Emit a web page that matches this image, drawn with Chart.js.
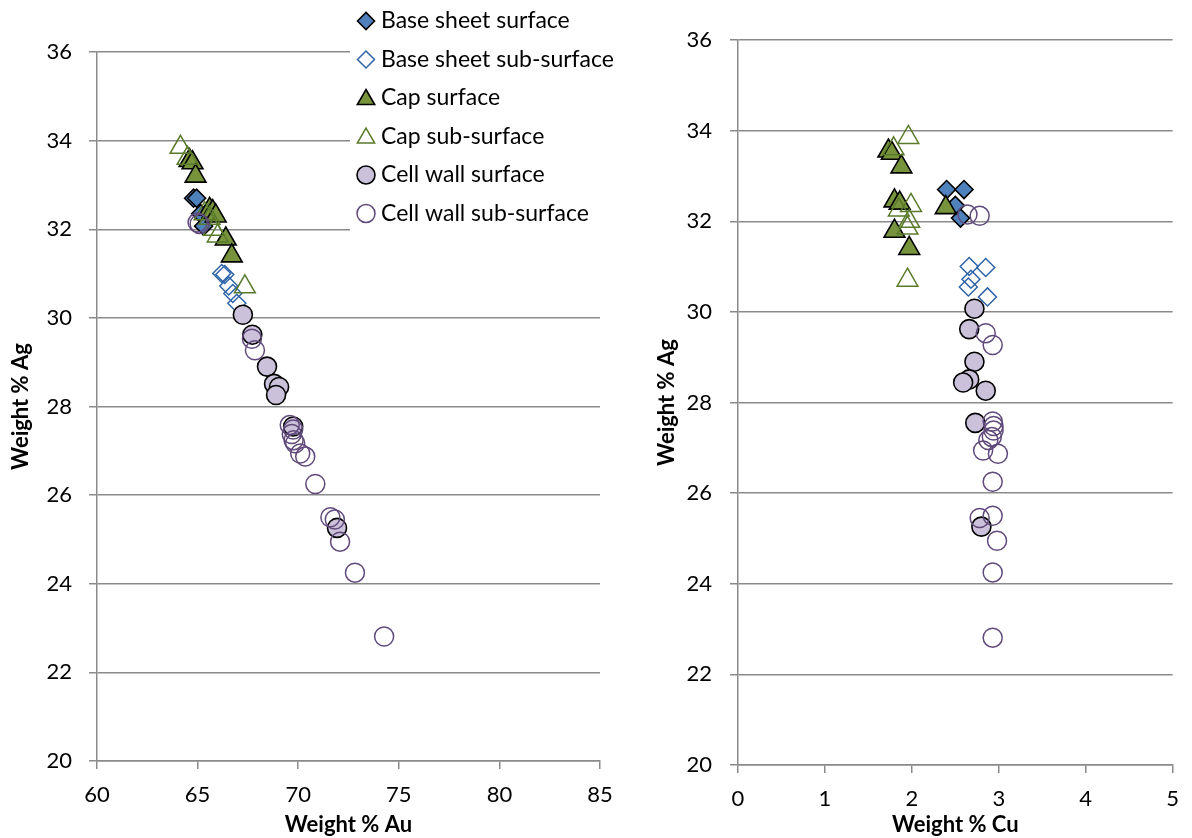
<!DOCTYPE html>
<html>
<head>
<meta charset="utf-8">
<script src="https://cdn.jsdelivr.net/npm/chart.js@4.4.1/dist/chart.umd.min.js"></script>
<style>
    body { margin: 0; background: #fff; }
    #graficaAu { position: absolute; left: 0; top: 0; }
    #graficaCu { position: absolute; left: 650px; top: 0; }
</style>
</head>
<body>
<canvas id="graficaAu" width="650" height="838"></canvas>
<canvas id="graficaCu" width="542" height="838"></canvas>
<script>
// ---------------- datos (Ag, Au, Cu en % peso) ----------------
const baseSupAg = [32.7, 32.7, 32.35, 32.07];
const baseSupAu = [64.8, 64.95, 65.15, 65.3];
const baseSupCu = [2.4, 2.6, 2.5, 2.56];

const baseSubAg = [31.0, 30.98, 30.72, 30.55, 30.33];
const baseSubAu = [66.2, 66.35, 66.55, 66.75, 66.95];
const baseSubCu = [2.66, 2.85, 2.68, 2.65, 2.87];

const capSupAg = [33.55, 33.5, 33.2, 32.45, 32.4, 32.3, 31.78, 31.4];
const capSupAu = [64.6, 64.75, 64.9, 65.6, 65.75, 65.9, 66.4, 66.7];
const capSupCu = [1.73, 1.77, 1.88, 1.8, 1.86, 2.39, 1.8, 1.97];

const capSubAg = [33.85, 33.6, 32.35, 32.25, 32.0, 31.85, 30.7];
const capSubAu = [64.15, 64.5, 65.35, 65.6, 65.8, 66.0, 67.35];
const capSubCu = [1.96, 1.79, 1.99, 1.85, 1.97, 1.95, 1.95];

const celSupAg = [30.07, 29.62, 28.9, 28.51, 28.44, 28.26, 27.55, 25.26];
const celSupAu = [67.25, 67.72, 68.45, 68.8, 69.05, 68.9, 69.75, 71.93];
const celSupCu = [2.72, 2.66, 2.72, 2.66, 2.59, 2.85, 2.73, 2.8];

const celSubAg = [32.15, 32.12, 29.53, 29.27, 27.58, 27.48, 27.38, 27.24, 27.17, 26.94, 26.87, 26.25, 25.5, 25.45, 24.95, 24.25, 22.81];
const celSubAu = [65.0, 65.1, 67.7, 67.85, 69.58, 69.75, 69.68, 69.77, 69.85, 70.1, 70.35, 70.85, 71.6, 71.82, 72.08, 72.82, 74.27];
const celSubCu = [2.64, 2.78, 2.85, 2.93, 2.93, 2.94, 2.94, 2.92, 2.88, 2.82, 2.99, 2.93, 2.93, 2.78, 2.98, 2.93, 2.93];

// ticks de los ejes
const ticksAg = [20, 22, 24, 26, 28, 30, 32, 34, 36];
const ticksAu = [60, 65, 70, 75, 80, 85];
const ticksCu = [0, 1, 2, 3, 4, 5];

// ---------------- estilos ----------------
const gris = '#8a8a8a';
const fuente = 'Lato, "Open Sans", sans-serif';

const series = [
    { label: 'Base sheet surface',     ag: baseSupAg, au: baseSupAu, cu: baseSupCu, estilo: 'rectRot',  radio: 9,   relleno: '#4F81BD',      borde: '#000',    ancho: 1.6 },
    { label: 'Base sheet sub-surface', ag: baseSubAg, au: baseSubAu, cu: baseSubCu, estilo: 'rectRot',  radio: 9,   relleno: 'rgba(0,0,0,0)', borde: '#2E64A8', ancho: 1.5 },
    { label: 'Cap surface',            ag: capSupAg,  au: capSupAu,  cu: capSupCu,  estilo: 'triangle', radio: 12,  relleno: '#77933C',      borde: '#000',    ancho: 1.6 },
    { label: 'Cap sub-surface',        ag: capSubAg,  au: capSubAu,  cu: capSubCu,  estilo: 'triangle', radio: 12,  relleno: 'rgba(0,0,0,0)', borde: '#5A7A2B', ancho: 1.5 },
    { label: 'Cell wall surface',      ag: celSupAg,  au: celSupAu,  cu: celSupCu,  estilo: 'circle',   radio: 9.5, relleno: '#CCC1DA',      borde: '#000',    ancho: 1.6 },
    { label: 'Cell wall sub-surface',  ag: celSubAg,  au: celSubAu,  cu: celSubCu,  estilo: 'circle',   radio: 9.5, relleno: 'rgba(0,0,0,0)', borde: '#604A7B', ancho: 1.5 }
];

function armarDatasets(claveX) {
    return series.map((s, i) => ({
        label: s.label,
        data: s.ag.map((v, k) => ({ x: s[claveX][k], y: v })),
        pointStyle: s.estilo,
        pointRadius: s.radio,
        pointHoverRadius: s.radio,
        pointBackgroundColor: s.relleno,
        pointBorderColor: s.borde,
        pointBorderWidth: s.ancho,
        radioLeyenda: s.estilo === 'triangle' ? s.radio - 2 : s.radio - 0.5,
        showLine: false,
        order: series.length - i   // como Excel: la ultima serie queda arriba
    }));
}

// leyenda dibujada sobre el grafico izquierdo (se encima al area como en el original)
const leyendaPlugin = {
    id: 'leyenda',
    afterDraw(chart) {
        const ctx = chart.ctx;
        ctx.save();
        ctx.fillStyle = '#fff';
        ctx.fillRect(350, 0, 300, 236);
        chart.data.datasets.forEach((ds, i) => {
            const y = 21 + i * 38.5;
            ctx.fillStyle = ds.pointBackgroundColor;
            ctx.strokeStyle = ds.pointBorderColor;
            ctx.lineWidth = ds.pointBorderWidth;
            Chart.helpers.drawPoint(ctx, {
                pointStyle: ds.pointStyle,
                radius: ds.radioLeyenda,
                rotation: 0,
                borderWidth: ds.pointBorderWidth
            }, 366, y + (ds.pointStyle === 'triangle' ? 1.5 : 0));
            ctx.fillStyle = '#000';
            ctx.font = '23px ' + fuente;
            ctx.textBaseline = 'middle';
            ctx.textAlign = 'left';
            ctx.fillText(ds.label, 381, y);
        });
        ctx.restore();
    }
};

function opcionesEjes(cfg) {
    return {
        x: {
            type: 'linear',
            min: cfg.xTicks[0],
            max: cfg.xTicks[cfg.xTicks.length - 1],
            afterBuildTicks: s => { s.ticks = cfg.xTicks.map(v => ({ value: v })); },
            afterFit: s => { s.height = cfg.altoX; },
            grid: { drawOnChartArea: false, drawTicks: true, tickLength: 8, color: gris, lineWidth: 1.5 },
            border: { display: true, color: gris, width: 1.5 },
            ticks: { color: '#000', font: { family: fuente, size: 22 }, padding: 13, maxRotation: 0 },
            title: { display: true, text: cfg.tituloX, color: '#000', font: { family: fuente, size: 22, weight: 'bold' }, padding: { top: 0, bottom: 0 } }
        },
        y: {
            type: 'linear',
            min: 20,
            max: 36,
            afterBuildTicks: s => { s.ticks = ticksAg.map(v => ({ value: v })); },
            afterFit: s => { s.width = cfg.anchoY; },
            grid: { color: gris, lineWidth: 1.5, tickLength: 8 },
            border: { display: true, color: gris, width: 1.5 },
            ticks: { color: '#000', font: { family: fuente, size: 22 }, padding: cfg.padTicksY },
            title: { display: true, text: 'Weight % Ag', color: '#000', font: { family: fuente, size: 22, weight: 'bold' }, padding: { top: cfg.padTituloY, bottom: 0 } }
        }
    };
}

function inicializarGrafica(idCanvas, claveX, cfg, plugins) {
    const ctx = document.getElementById(idCanvas).getContext('2d');
    return new Chart(ctx, {
        type: 'scatter',
        data: { datasets: armarDatasets(claveX) },
        options: {
            responsive: false,
            animation: false,
            devicePixelRatio: 1,
            layout: { padding: cfg.padding },
            plugins: { legend: { display: false }, tooltip: { enabled: false } },
            scales: opcionesEjes(cfg)
        },
        plugins: plugins
    });
}

// grafica 1: Au vs Ag
inicializarGrafica('graficaAu', 'au', {
    xTicks: ticksAu, tituloX: 'Weight % Au',
    altoX: 77, anchoY: 97, padTicksY: 17, padTituloY: 8,
    padding: { top: 52, right: 50, left: 0, bottom: 0 }
}, [leyendaPlugin]);

// grafica 2: Cu vs Ag
inicializarGrafica('graficaCu', 'cu', {
    xTicks: ticksCu, tituloX: 'Weight % Cu',
    altoX: 73, anchoY: 88, padTicksY: 18, padTituloY: 4,
    padding: { top: 40, right: 12, left: 0, bottom: 0 }
}, []);
</script>
</body>
</html>
